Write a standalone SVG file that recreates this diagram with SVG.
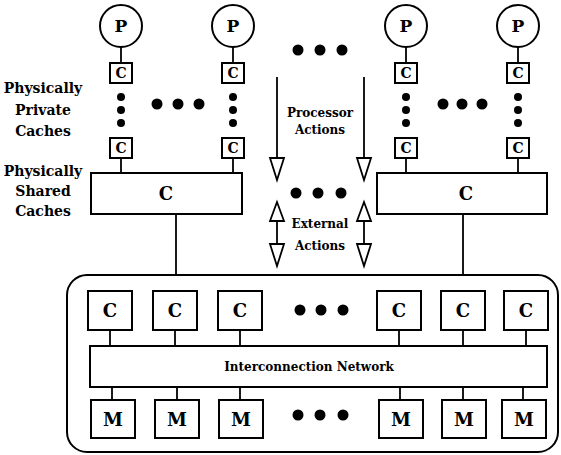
<svg xmlns="http://www.w3.org/2000/svg" width="561" height="455" viewBox="0 0 561 455">
<defs>
<style>
.bx{fill:#fff;stroke:#000;stroke-width:2}
.ln{fill:none;stroke:#000;stroke-width:1.8}
.ar{fill:#fff;stroke:#000;stroke-width:1.8;stroke-linejoin:miter}
.dt{fill:#000}
text{font-family:"DejaVu Serif","Liberation Serif",serif;font-weight:bold;fill:#000;text-anchor:middle}
.p{font-size:17px}
.cs{font-size:14px}
.cl{font-size:18px}
.lb{font-size:14px}
.md{font-size:12px}
</style>
</defs>
<rect width="561" height="455" fill="#fff"/>

<g id="memory-system">
<rect class="bx" x="67" y="275" width="491" height="177" rx="20" ry="20"/>
</g>

<g id="connectors">
<line class="ln" x1="121" y1="47" x2="121" y2="63"/>
<line class="ln" x1="233" y1="47" x2="233" y2="63"/>
<line class="ln" x1="406" y1="47" x2="406" y2="63"/>
<line class="ln" x1="518" y1="47" x2="518" y2="63"/>
<line class="ln" x1="121" y1="158" x2="121" y2="173"/>
<line class="ln" x1="233" y1="158" x2="233" y2="173"/>
<line class="ln" x1="406" y1="158" x2="406" y2="173"/>
<line class="ln" x1="518" y1="158" x2="518" y2="173"/>
<line class="ln" x1="176" y1="214" x2="176" y2="275"/>
<line class="ln" x1="463" y1="214" x2="463" y2="275"/>
<line class="ln" x1="110" y1="330" x2="110" y2="346"/>
<line class="ln" x1="175" y1="330" x2="175" y2="346"/>
<line class="ln" x1="240" y1="330" x2="240" y2="346"/>
<line class="ln" x1="399" y1="330" x2="399" y2="346"/>
<line class="ln" x1="463" y1="330" x2="463" y2="346"/>
<line class="ln" x1="526" y1="330" x2="526" y2="346"/>
<line class="ln" x1="112" y1="387" x2="112" y2="400"/>
<line class="ln" x1="177" y1="387" x2="177" y2="400"/>
<line class="ln" x1="240" y1="387" x2="240" y2="400"/>
<line class="ln" x1="400" y1="387" x2="400" y2="400"/>
<line class="ln" x1="463" y1="387" x2="463" y2="400"/>
<line class="ln" x1="523" y1="387" x2="523" y2="400"/>
</g>

<g id="labels">
<text class="lb" x="43" y="93">Physically</text>
<text class="lb" x="43" y="115">Private</text>
<text class="lb" x="43" y="136">Caches</text>
<text class="lb" x="43" y="176">Physically</text>
<text class="lb" x="43" y="196">Shared</text>
<text class="lb" x="43" y="216">Caches</text>
</g>

<g id="proc1">
<circle class="bx" cx="121" cy="26" r="21"/><text class="p" x="121" y="32">P</text>
<rect class="bx" x="110" y="63" width="22" height="20"/><text class="cs" x="121" y="78">C</text>
<circle class="dt" cx="121" cy="97" r="4"/><circle class="dt" cx="121" cy="110" r="4"/><circle class="dt" cx="121" cy="123" r="4"/>
<rect class="bx" x="110" y="138" width="22" height="20"/><text class="cs" x="121" y="153">C</text>
</g>
<g id="proc2">
<circle class="bx" cx="233" cy="26" r="21"/><text class="p" x="233" y="32">P</text>
<rect class="bx" x="222" y="63" width="22" height="20"/><text class="cs" x="233" y="78">C</text>
<circle class="dt" cx="233" cy="97" r="4"/><circle class="dt" cx="233" cy="110" r="4"/><circle class="dt" cx="233" cy="123" r="4"/>
<rect class="bx" x="222" y="138" width="22" height="20"/><text class="cs" x="233" y="153">C</text>
</g>
<g id="proc3">
<circle class="bx" cx="406" cy="26" r="21"/><text class="p" x="406" y="32">P</text>
<rect class="bx" x="395" y="63" width="22" height="20"/><text class="cs" x="406" y="78">C</text>
<circle class="dt" cx="406" cy="97" r="4"/><circle class="dt" cx="406" cy="110" r="4"/><circle class="dt" cx="406" cy="123" r="4"/>
<rect class="bx" x="395" y="138" width="22" height="20"/><text class="cs" x="406" y="153">C</text>
</g>
<g id="proc4">
<circle class="bx" cx="518" cy="26" r="21"/><text class="p" x="518" y="32">P</text>
<rect class="bx" x="507" y="63" width="22" height="20"/><text class="cs" x="518" y="78">C</text>
<circle class="dt" cx="518" cy="97" r="4"/><circle class="dt" cx="518" cy="110" r="4"/><circle class="dt" cx="518" cy="123" r="4"/>
<rect class="bx" x="507" y="138" width="22" height="20"/><text class="cs" x="518" y="153">C</text>
</g>

<g id="shared-left">
<rect class="bx" x="91" y="173" width="151" height="41"/><text class="cl" x="166" y="200">C</text>
</g>
<g id="shared-right">
<rect class="bx" x="377" y="173" width="170" height="41"/><text class="cl" x="466" y="200">C</text>
</g>

<g id="actions">
<line class="ln" x1="277" y1="77" x2="277" y2="158"/>
<polygon class="ar" points="270,158 284,158 277,180"/>
<line class="ln" x1="364" y1="77" x2="364" y2="158"/>
<polygon class="ar" points="357,158 371,158 364,180"/>
<text class="md" x="320" y="117">Processor</text>
<text class="md" x="320" y="134">Actions</text>
<polygon class="ar" points="277,202 270,221 284,221"/>
<line class="ln" x1="277" y1="221" x2="277" y2="244"/>
<polygon class="ar" points="270,244 284,244 277,266"/>
<polygon class="ar" points="364,202 357,221 371,221"/>
<line class="ln" x1="364" y1="221" x2="364" y2="244"/>
<polygon class="ar" points="357,244 371,244 364,266"/>
<text class="md" x="320" y="228">External</text>
<text class="md" x="320" y="250">Actions</text>
</g>

<g id="caches-lower">
<rect class="bx" x="88" y="291" width="44" height="39"/><text class="cl" x="110" y="317">C</text>
<rect class="bx" x="153" y="291" width="44" height="39"/><text class="cl" x="175" y="317">C</text>
<rect class="bx" x="218" y="291" width="44" height="39"/><text class="cl" x="240" y="317">C</text>
<rect class="bx" x="377" y="291" width="44" height="39"/><text class="cl" x="399" y="317">C</text>
<rect class="bx" x="441" y="291" width="44" height="39"/><text class="cl" x="463" y="317">C</text>
<rect class="bx" x="504" y="291" width="44" height="39"/><text class="cl" x="526" y="317">C</text>
</g>

<g id="network">
<rect class="bx" x="90" y="346" width="457" height="41"/>
<text class="md" x="309" y="371">Interconnection Network</text>
</g>

<g id="memories">
<rect class="bx" x="91" y="400" width="44" height="38"/><text class="cl" x="113" y="426">M</text>
<rect class="bx" x="155" y="400" width="44" height="38"/><text class="cl" x="177" y="426">M</text>
<rect class="bx" x="219" y="400" width="44" height="38"/><text class="cl" x="241" y="426">M</text>
<rect class="bx" x="379" y="400" width="44" height="38"/><text class="cl" x="401" y="426">M</text>
<rect class="bx" x="442" y="400" width="44" height="38"/><text class="cl" x="464" y="426">M</text>
<rect class="bx" x="502" y="400" width="44" height="38"/><text class="cl" x="524" y="426">M</text>
</g>

<g id="ellipses">
<circle class="dt" cx="157" cy="104" r="5.5"/><circle class="dt" cx="178" cy="104" r="5.5"/><circle class="dt" cx="199" cy="104" r="5.5"/>
<circle class="dt" cx="443" cy="104" r="5.5"/><circle class="dt" cx="462" cy="104" r="5.5"/><circle class="dt" cx="482" cy="104" r="5.5"/>
<circle class="dt" cx="298" cy="50" r="5.5"/><circle class="dt" cx="320" cy="50" r="5.5"/><circle class="dt" cx="342" cy="50" r="5.5"/>
<circle class="dt" cx="296" cy="193" r="5.5"/><circle class="dt" cx="318" cy="193" r="5.5"/><circle class="dt" cx="341" cy="193" r="5.5"/>
<circle class="dt" cx="300" cy="310" r="5.5"/><circle class="dt" cx="321" cy="310" r="5.5"/><circle class="dt" cx="343" cy="310" r="5.5"/>
<circle class="dt" cx="298" cy="415" r="5.5"/><circle class="dt" cx="320" cy="415" r="5.5"/><circle class="dt" cx="343" cy="415" r="5.5"/>
</g>
</svg>
